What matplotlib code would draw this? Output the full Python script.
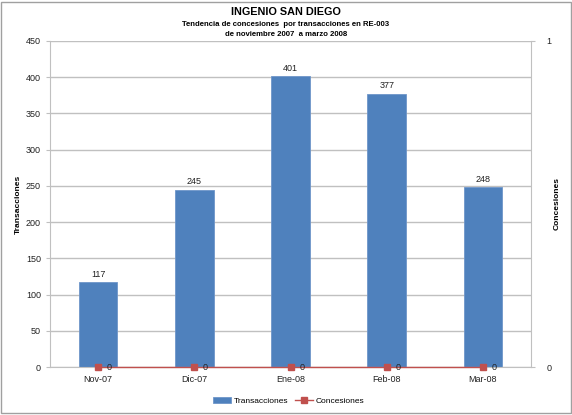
import matplotlib
matplotlib.use("Agg")
import matplotlib.pyplot as plt
from matplotlib.patches import Rectangle

categories = ["Nov-07", "Dic-07", "Ene-08", "Feb-08", "Mar-08"]
transacciones = [117, 245, 401, 377, 248]
concesiones = [0, 0, 0, 0, 0]

plt.rcParams['font.family'] = ['Liberation Sans', 'DejaVu Sans']

fig = plt.figure(figsize=(5.72, 4.15), dpi=100)
fig.patches.append(Rectangle((0.002, 0.004), 0.996, 0.992, transform=fig.transFigure,
                             fill=False, edgecolor="#a0a0a0", linewidth=1.0))

ax = fig.add_axes([50/572, 1-367/415, 481/572, 326/415])
x = list(range(len(categories)))
bars = ax.bar(x, transacciones, width=0.4, color="#4F81BD", edgecolor="#6f96c9", linewidth=0.6,
              label="Transacciones", zorder=2)
ax.set_xlim(-0.5, len(categories)-0.5)
ax.set_ylim(0, 450)
ax.set_yticks(range(0, 451, 50))
ax.yaxis.grid(True, color="#c0c0c0", linewidth=1.0)
ax.set_axisbelow(True)
ax.set_xticks(x)
ax.set_xticklabels(categories)
for s in ["top", "right"]:
    ax.spines[s].set_visible(False)
ax.spines["left"].set_color("#c0c0c0")
ax.spines["bottom"].set_color("#c0c0c0")
ax.tick_params(axis="both", labelsize=6.5, colors="#c0c0c0", labelcolor="#222222", length=3)
ax.tick_params(axis="x", length=0, pad=6)
for b, v in zip(bars, transacciones):
    ax.text(b.get_x()+b.get_width()/2, v+5, str(v), ha="center", va="bottom", fontsize=6.5, color="#222222")
ax.set_ylabel("Transacciones", fontsize=6, fontweight="bold")

ax2 = ax.twinx()
ax2.set_ylim(0, 1)
ax2.set_yticks([0, 1])
line, = ax2.plot(x, concesiones, color="#C0504D", marker="s", markersize=5, linewidth=1.0,
                 label="Concesiones", zorder=3, clip_on=False)
for xi, v in zip(x, concesiones):
    ax2.text(xi+0.09, v, str(v), ha="left", va="center", fontsize=6.5, color="#222222")
for s in ["top", "left", "bottom"]:
    ax2.spines[s].set_visible(False)
ax2.spines["right"].set_color("#c0c0c0")
ax2.tick_params(axis="y", labelsize=6.5, colors="#c0c0c0", labelcolor="#222222", length=3, pad=8)
ax2.set_ylabel("Concesiones", fontsize=6, fontweight="bold", rotation=90)
ax2.yaxis.set_label_coords(1.048, 0.5)
ax.yaxis.set_label_coords(-0.058, 0.5)

fig.text(0.5, 1-12/415, "INGENIO SAN DIEGO", ha="center", va="center", fontsize=7.8, fontweight="bold")
fig.text(0.5, 1-24/415, "Tendencia de concesiones  por transacciones en RE-003", ha="center", va="center",
         fontsize=5.6, fontweight="bold")
fig.text(0.5, 1-34/415, "de noviembre 2007  a marzo 2008", ha="center", va="center", fontsize=5.6,
         fontweight="bold")

fig.legend(handles=[bars, line], labels=["Transacciones", "Concesiones"], loc="center",
           bbox_to_anchor=(0.505, 1-401/415), ncol=2, frameon=False, fontsize=6,
           handlelength=2.2, handletextpad=0.3, columnspacing=0.8)

fig.savefig("out.png", dpi=100)
